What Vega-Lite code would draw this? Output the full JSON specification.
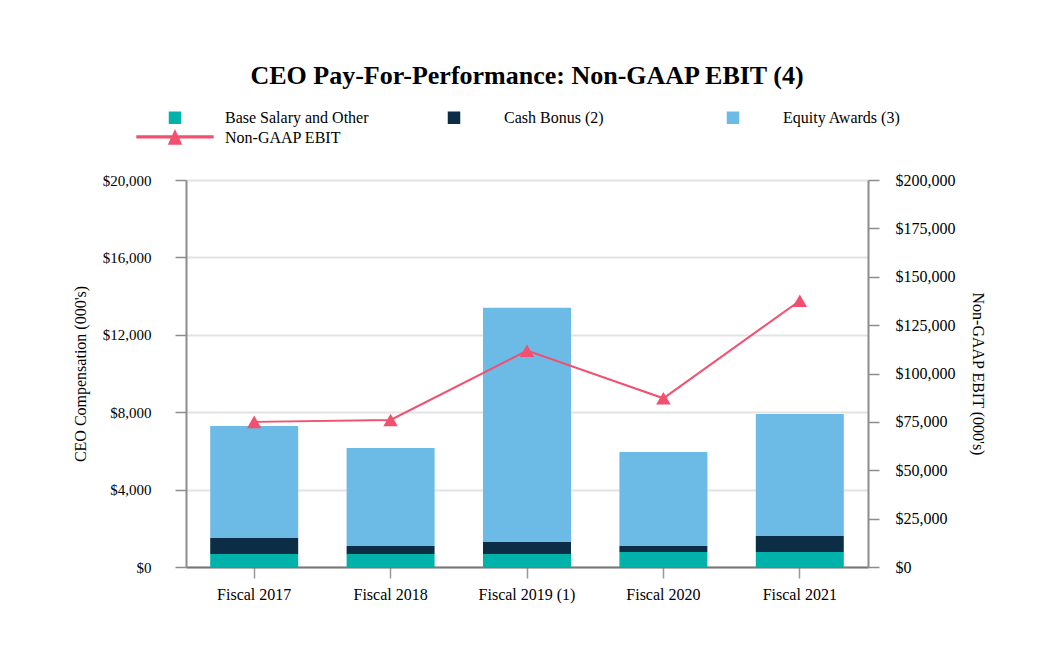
{
  "$schema": "https://vega.github.io/schema/vega-lite/v6.json",
  "width": 682,
  "height": 387,
  "autosize": {"type": "none"},
  "padding": {"left": 186, "top": 180, "right": 192, "bottom": 99},
  "background": "white",
  "title": {
    "text": "CEO Pay-For-Performance: Non-GAAP EBIT (4)",
    "font": "Liberation Serif",
    "fontSize": 26,
    "fontWeight": "bold",
    "color": "#000000",
    "anchor": "middle",
    "frame": "group",
    "offset": 20
  },
  "config": {
    "view": {"stroke": null},
    "axis": {
      "labelFont": "Liberation Serif",
      "labelFontSize": 16,
      "labelColor": "#000000",
      "titleFont": "Liberation Serif",
      "titleFontSize": 16,
      "titleFontWeight": "normal",
      "titleColor": "#000000",
      "domainColor": "#8c8c8c",
      "domainWidth": 2,
      "tickColor": "#8c8c8c",
      "tickWidth": 1.5,
      "tickSize": 11
    },
    "legend": {
      "labelFont": "Liberation Serif",
      "labelFontSize": 16,
      "labelColor": "#000000"
    }
  },
  "layer": [
    {
      "data": {
        "values": [
          {"fiscal": "Fiscal 2017", "series": "Base Salary and Other", "value": 672},
          {"fiscal": "Fiscal 2017", "series": "Cash Bonus (2)", "value": 827},
          {"fiscal": "Fiscal 2017", "series": "Equity Awards (3)", "value": 5790},
          {"fiscal": "Fiscal 2018", "series": "Base Salary and Other", "value": 672},
          {"fiscal": "Fiscal 2018", "series": "Cash Bonus (2)", "value": 413},
          {"fiscal": "Fiscal 2018", "series": "Equity Awards (3)", "value": 5065},
          {"fiscal": "Fiscal 2019 (1)", "series": "Base Salary and Other", "value": 672},
          {"fiscal": "Fiscal 2019 (1)", "series": "Cash Bonus (2)", "value": 620},
          {"fiscal": "Fiscal 2019 (1)", "series": "Equity Awards (3)", "value": 12100},
          {"fiscal": "Fiscal 2020", "series": "Base Salary and Other", "value": 775},
          {"fiscal": "Fiscal 2020", "series": "Cash Bonus (2)", "value": 310},
          {"fiscal": "Fiscal 2020", "series": "Equity Awards (3)", "value": 4855},
          {"fiscal": "Fiscal 2021", "series": "Base Salary and Other", "value": 775},
          {"fiscal": "Fiscal 2021", "series": "Cash Bonus (2)", "value": 827},
          {"fiscal": "Fiscal 2021", "series": "Equity Awards (3)", "value": 6308}
        ]
      },
      "mark": {"type": "bar"},
      "encoding": {
        "x": {
          "field": "fiscal",
          "type": "nominal",
          "sort": null,
          "scale": {"paddingInner": 0.355, "paddingOuter": 0.1775},
          "axis": {
            "title": null,
            "labelAngle": 0,
            "labelPadding": 8,
            "domainColor": "#777777",
            "tickColor": "#999999"
          }
        },
        "y": {
          "field": "value",
          "type": "quantitative",
          "stack": "zero",
          "scale": {"domain": [0, 20000], "nice": false},
          "axis": {
            "title": "CEO Compensation (000's)",
            "values": [0, 4000, 8000, 12000, 16000, 20000],
            "format": "$,.0f",
            "labelFontSize": 15,
            "labelPadding": 24,
            "titlePadding": 14,
            "grid": true,
            "gridColor": "#e3e3e3",
            "gridWidth": 2
          }
        },
        "order": {"field": "series", "sort": "ascending"},
        "color": {
          "field": "series",
          "type": "nominal",
          "scale": {
            "domain": ["Base Salary and Other", "Cash Bonus (2)", "Equity Awards (3)", "Non-GAAP EBIT"],
            "range": ["#00b2aa", "#0b2d45", "#6bbbe6", "#f2506e"]
          },
          "legend": {
            "title": null,
            "orient": "none",
            "legendX": -19,
            "legendY": -71,
            "direction": "horizontal",
            "columns": 3,
            "gridAlign": "all",
            "columnPadding": 76,
            "rowPadding": 0,
            "symbolSize": 121,
            "labelOffset": 42,
            "encode": {
              "symbols": {
                "update": {
                  "shape": {"signal": "datum.value === 'Non-GAAP EBIT' ? 'M-6.9,-0.35L6.9,-0.35L6.9,-0.05L-6.9,-0.05Z M0,-1.3L1.1,1.1L-1.1,1.1Z' : 'square'"},
                  "fill": {"scale": "color", "field": "value"},
                  "stroke": {"value": "transparent"},
                  "opacity": {"value": 1}
                }
              }
            }
          }
        }
      }
    },
    {
      "data": {
        "values": [
          {"fiscal": "Fiscal 2017", "series": "Non-GAAP EBIT", "ebit": 75000},
          {"fiscal": "Fiscal 2018", "series": "Non-GAAP EBIT", "ebit": 76000},
          {"fiscal": "Fiscal 2019 (1)", "series": "Non-GAAP EBIT", "ebit": 111800},
          {"fiscal": "Fiscal 2020", "series": "Non-GAAP EBIT", "ebit": 87200},
          {"fiscal": "Fiscal 2021", "series": "Non-GAAP EBIT", "ebit": 137600}
        ]
      },
      "mark": {
        "type": "line",
        "strokeWidth": 2,
        "point": {"shape": "triangle-up", "size": 210, "filled": true, "opacity": 1}
      },
      "encoding": {
        "x": {"field": "fiscal", "type": "nominal", "sort": null},
        "y": {
          "field": "ebit",
          "type": "quantitative",
          "scale": {"domain": [0, 200000], "nice": false},
          "axis": {
            "title": "Non-GAAP EBIT (000's)",
            "orient": "right",
            "values": [0, 25000, 50000, 75000, 100000, 125000, 150000, 175000, 200000],
            "format": "$,.0f",
            "labelPadding": 16,
            "titlePadding": 14,
            "grid": false
          }
        },
        "color": {"field": "series", "type": "nominal"}
      }
    }
  ],
  "resolve": {"scale": {"y": "independent"}}
}
